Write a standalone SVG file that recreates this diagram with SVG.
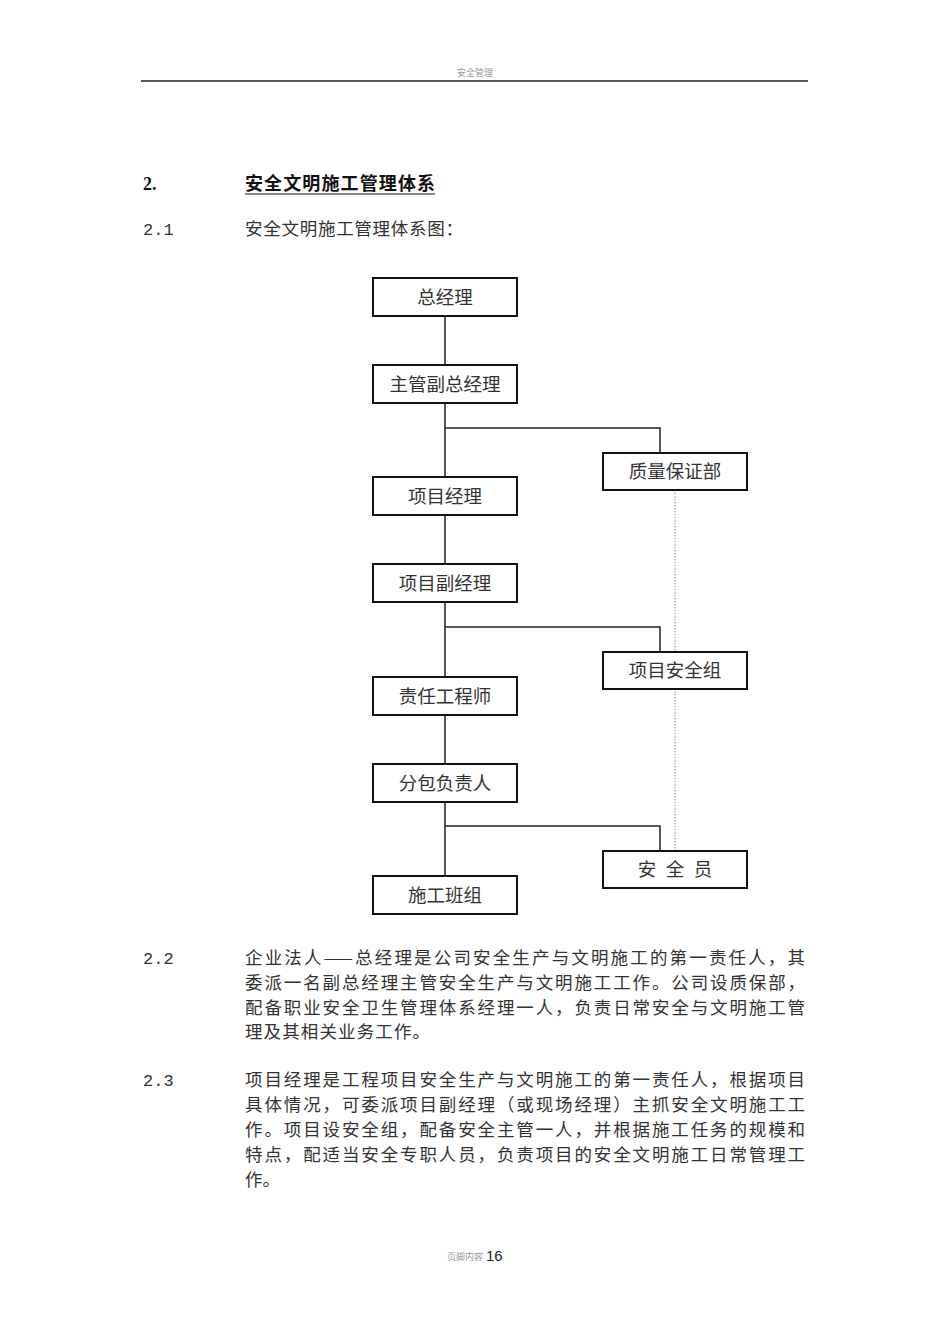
<svg xmlns="http://www.w3.org/2000/svg" width="950" height="1344" viewBox="0 0 950 1344">
<style>
.box{fill:#fff;stroke:#111;stroke-width:2}
.lbl{font-family:"Noto Sans CJK SC",sans-serif;font-size:18.5px;fill:#333;text-anchor:middle}
.ln{stroke:#222;stroke-width:1.5;fill:none}
.dot{stroke:#999;stroke-width:1.2;stroke-dasharray:1.5 1.5;fill:none}
.body{font-family:"Noto Sans CJK SC",sans-serif;font-size:17.5px;fill:#333}
.num{font-family:"Liberation Mono",monospace;font-size:17px;fill:#333}
</style>
<rect width="950" height="1344" fill="#fff"/>
<g id="header">
<text x="475" y="76" text-anchor="middle" font-family="Noto Sans CJK SC,sans-serif" font-size="9" fill="#999">安全管理</text>
<line x1="141" y1="81" x2="808" y2="81" stroke="#222" stroke-width="1.5"/>
</g>
<g id="headings">
<text x="143" y="190" font-family="Liberation Serif,serif" font-weight="bold" font-size="18" fill="#111">2.</text>
<text x="245" y="190" font-family="Noto Sans CJK SC,sans-serif" font-weight="bold" font-size="18" fill="#111" textLength="190" lengthAdjust="spacing">安全文明施工管理体系</text>
<line x1="245" y1="194" x2="435" y2="194" stroke="#111" stroke-width="1.2"/>
<text x="143" y="235" class="num">2.1</text>
<text x="245" y="235" class="body" textLength="218" lengthAdjust="spacing">安全文明施工管理体系图：</text>
</g>
<g id="connectors">
<path class="ln" d="M445,316 V365"/>
<path class="ln" d="M445,403 V477 M445,428 H660 V453"/>
<path class="ln" d="M445,515 V564"/>
<path class="ln" d="M445,602 V677 M445,627 H660 V652"/>
<path class="ln" d="M445,715 V764"/>
<path class="ln" d="M445,802 V876 M445,826 H660 V851"/>
<path class="dot" d="M675,490 V851"/>
</g>
<g id="n1"><rect class="box" x="373" y="278" width="144" height="38"/><text class="lbl" x="445" y="304">总经理</text></g>
<g id="n2"><rect class="box" x="373" y="365" width="144" height="38"/><text class="lbl" x="445" y="391">主管副总经理</text></g>
<g id="n3"><rect class="box" x="603" y="453" width="144" height="37"/><text class="lbl" x="675" y="478">质量保证部</text></g>
<g id="n4"><rect class="box" x="373" y="477" width="144" height="38"/><text class="lbl" x="445" y="503">项目经理</text></g>
<g id="n5"><rect class="box" x="373" y="564" width="144" height="38"/><text class="lbl" x="445" y="590">项目副经理</text></g>
<g id="n6"><rect class="box" x="603" y="652" width="144" height="37"/><text class="lbl" x="675" y="677">项目安全组</text></g>
<g id="n7"><rect class="box" x="373" y="677" width="144" height="38"/><text class="lbl" x="445" y="703">责任工程师</text></g>
<g id="n8"><rect class="box" x="373" y="764" width="144" height="38"/><text class="lbl" x="445" y="790">分包负责人</text></g>
<g id="n9"><rect class="box" x="603" y="851" width="144" height="37"/><text class="lbl" x="675" y="876"><tspan x="647">安</tspan><tspan x="675">全</tspan><tspan x="703">员</tspan></text></g>
<g id="n10"><rect class="box" x="373" y="876" width="144" height="38"/><text class="lbl" x="445" y="902">施工班组</text></g>
<g id="para22">
<text x="143" y="964" class="num">2.2</text>
<text x="245" y="964" class="body" textLength="560" lengthAdjust="spacing">企业法人——总经理是公司安全生产与文明施工的第一责任人，其</text>
<text x="245" y="989" class="body" textLength="560" lengthAdjust="spacing">委派一名副总经理主管安全生产与文明施工工作。公司设质保部，</text>
<text x="245" y="1014" class="body" textLength="560" lengthAdjust="spacing">配备职业安全卫生管理体系经理一人，负责日常安全与文明施工管</text>
<text x="245" y="1038" class="body" textLength="185" lengthAdjust="spacing">理及其相关业务工作。</text>
</g>
<g id="para23">
<text x="143" y="1086" class="num">2.3</text>
<text x="245" y="1086" class="body" textLength="560" lengthAdjust="spacing">项目经理是工程项目安全生产与文明施工的第一责任人，根据项目</text>
<text x="245" y="1111" class="body" textLength="560" lengthAdjust="spacing">具体情况，可委派项目副经理（或现场经理）主抓安全文明施工工</text>
<text x="245" y="1136" class="body" textLength="560" lengthAdjust="spacing">作。项目设安全组，配备安全主管一人，并根据施工任务的规模和</text>
<text x="245" y="1161" class="body" textLength="560" lengthAdjust="spacing">特点，配适当安全专职人员，负责项目的安全文明施工日常管理工</text>
<text x="245" y="1186" class="body">作。</text>
</g>
<g id="footer">
<text x="447" y="1260" font-family="Noto Sans CJK SC,sans-serif" font-size="9" fill="#999">页脚内容</text>
<text x="486" y="1261" font-family="Liberation Sans,sans-serif" font-size="15" fill="#222">16</text>
</g>
</svg>
